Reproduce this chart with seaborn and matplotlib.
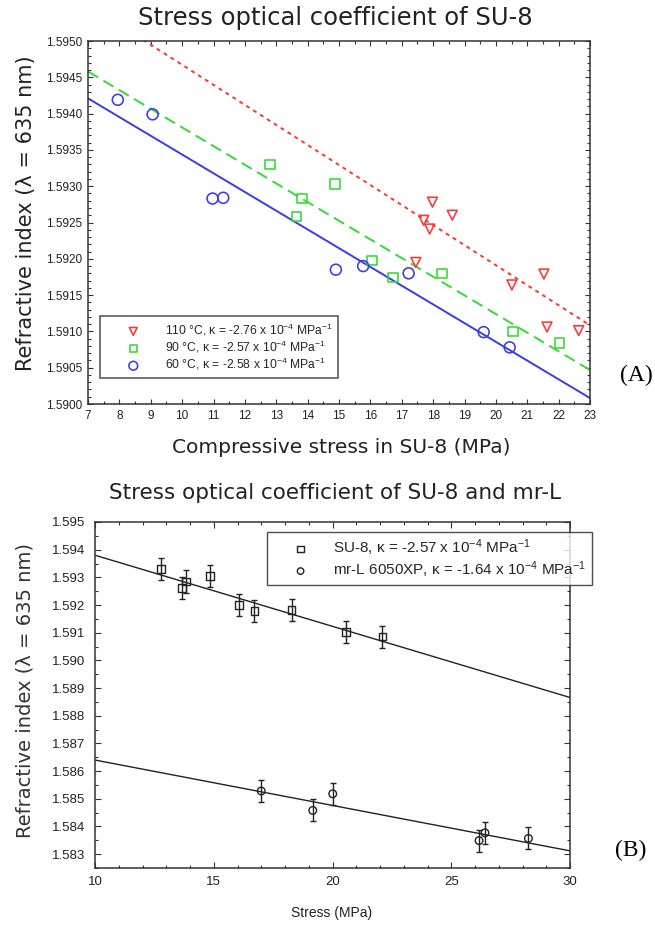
import matplotlib
matplotlib.use('Agg')
import matplotlib.pyplot as plt
import numpy as np
import pandas as pd
import seaborn as sns
from matplotlib.ticker import MultipleLocator, FormatStrFormatter

# ---------------- Panel A data (compressive stress, refractive index) ----------------
a110_x = [17.98, 17.70, 17.89, 18.61, 17.45, 20.51, 21.53, 21.63, 22.64]
a110_y = [1.59278, 1.59253, 1.59241, 1.59260, 1.59195, 1.59164, 1.59179, 1.59106, 1.59101]
a90_x = [12.80, 13.82, 13.65, 14.87, 16.05, 16.72, 18.28, 20.55, 22.03]
a90_y = [1.59330, 1.59283, 1.59258, 1.59303, 1.59198, 1.59174, 1.59180, 1.59100, 1.59084]
a60_x = [7.95, 9.06, 10.97, 11.31, 14.90, 15.77, 17.22, 19.61, 20.44]
a60_y = [1.59419, 1.59399, 1.59283, 1.59284, 1.59185, 1.59190, 1.59180, 1.59099, 1.59078]
a_kappa = [-2.76e-4, -2.57e-4, -2.58e-4]          # 110, 90, 60 degC
a_n_at_x0 = [1.59550, 1.59458, 1.59421]            # fitted index at x = 7
a_labels = ['110 °C, κ = -2.76 x 10$^{-4}$ MPa$^{-1}$',
            '90 °C, κ = -2.57 x 10$^{-4}$ MPa$^{-1}$',
            '60 °C, κ = -2.58 x 10$^{-4}$ MPa$^{-1}$']

# ---------------- Panel B data ----------------
b_su8_x = [12.77, 13.66, 13.84, 14.84, 16.06, 16.71, 18.28, 20.57, 22.10]
b_su8_y = [1.59331, 1.59261, 1.59285, 1.59305, 1.59201, 1.59178, 1.59181, 1.59103, 1.59086]
b_su8_err = [0.0004, 0.0004, 0.0004, 0.0004, 0.0004, 0.0004, 0.0004, 0.0004, 0.0004]
b_mrl_x = [17.00, 19.17, 20.01, 26.17, 26.42, 28.25]
b_mrl_y = [1.58528, 1.58458, 1.58518, 1.58349, 1.58377, 1.58357]
b_mrl_err = [0.0004, 0.0004, 0.0004, 0.0004, 0.0004, 0.0004]
b_kappa = [-2.57e-4, -1.64e-4]
b_n_at_x0 = [1.59380, 1.58640]                      # fitted index at x = 10
b_labels = ['SU-8, κ = -2.57 x 10$^{-4}$ MPa$^{-1}$',
            'mr-L 6050XP, κ = -1.64 x 10$^{-4}$ MPa$^{-1}$']

sns.set_theme(style='ticks')
plt.rcParams['font.family'] = ['Liberation Sans', 'DejaVu Sans']
plt.rcParams['mathtext.fontset'] = 'custom'
plt.rcParams['mathtext.rm'] = 'Liberation Sans'
plt.rcParams['mathtext.it'] = 'Liberation Sans:italic'
plt.rcParams['mathtext.bf'] = 'Liberation Sans:bold'
plt.rcParams['mathtext.sf'] = 'Liberation Sans'

W, H = 655, 925
fig = plt.figure(figsize=(W / 100, H / 100), dpi=100)
fig.patch.set_facecolor('white')

def frac_box(l, t, r, b):
    return [l / W, 1 - b / H, (r - l) / W, (b - t) / H]

axA = fig.add_axes(frac_box(88, 41, 590, 404))
axB = fig.add_axes(frac_box(95, 522, 570, 868))

TITLE_FONT = ['DejaVu Sans']
red, green, blue = '#ff3535', '#30dd30', '#3a3aee'

# ---------------- Panel A ----------------
xlimA = (7, 23)
series_A = [(a110_x, a110_y, 'v', red, 50), (a90_x, a90_y, 's', green, 46), (a60_x, a60_y, 'o', blue, 62)]
for (xs, ys, mk, col, s), lab in zip(series_A, a_labels):
    sns.scatterplot(x=xs, y=ys, marker=mk, s=s, facecolor='none', edgecolor=col,
                    linewidth=1.15, ax=axA, label=lab, zorder=3)

styles_A = [(red, (0, (2.0, 2.2))), (green, (0, (6, 3.2))), (blue, '-')]
for (col, ls), k, n0 in zip(styles_A, a_kappa, a_n_at_x0):
    xl = np.array(xlimA, dtype=float)
    sns.lineplot(x=xl, y=n0 + k * (xl - xlimA[0]), color=col, linestyle=ls,
                 linewidth=1.4, ax=axA, zorder=2)

axA.set_xlim(*xlimA)
axA.set_ylim(1.5900, 1.5950)
axA.xaxis.set_major_locator(MultipleLocator(1))
axA.xaxis.set_minor_locator(MultipleLocator(0.5))
axA.yaxis.set_major_locator(MultipleLocator(0.0005))
axA.yaxis.set_minor_locator(MultipleLocator(0.0001))
axA.yaxis.set_major_formatter(FormatStrFormatter('%.4f'))
axA.tick_params(which='both', direction='in', top=True, right=True, colors='#333333',
                labelcolor='#222222', labelsize=8.5, width=0.8)
axA.tick_params(which='major', length=3.5)
axA.tick_params(which='minor', length=2)
axA.tick_params(axis='x', pad=4)
axA.tick_params(axis='y', pad=4)
for sp in axA.spines.values():
    sp.set_color('#333333'); sp.set_linewidth(1.1)

legA = axA.legend(loc='lower left', bbox_to_anchor=(0.024, 0.072), borderaxespad=0,
                  fontsize=8.7, frameon=True, fancybox=False, edgecolor='#222222',
                  handlelength=4.6, handletextpad=0.3, labelspacing=0.08,
                  borderpad=0.45, markerscale=0.8)
legA.get_frame().set_linewidth(1.1)

axA.set_ylabel('Refractive index (λ = 635 nm)', fontsize=15, family=TITLE_FONT,
               color='#222222', va='center')
axA.yaxis.set_label_coords(-0.1235, 0.525)
axA.set_xlabel('Compressive stress in SU-8 (MPa)', fontsize=14.5, family=TITLE_FONT,
               color='#222222', va='center')
axA.xaxis.set_label_coords(0.504, -0.121)

fig.text(335 / W, 1 - 18 / H, 'Stress optical coefficient of SU-8', fontsize=17.5,
         family=TITLE_FONT, ha='center', va='center', color='#222222')
fig.text(636 / W, 1 - 375 / H, '(A)', fontsize=17, family=['Liberation Serif'],
         ha='center', va='center', color='black')

# ---------------- Panel B ----------------
xlimB = (10, 30)
axB.errorbar(b_su8_x, b_su8_y, yerr=b_su8_err, fmt='none', ecolor='#222222',
             elinewidth=1.0, capsize=2.3, capthick=1.0, zorder=3)
axB.errorbar(b_mrl_x, b_mrl_y, yerr=b_mrl_err, fmt='none', ecolor='#222222',
             elinewidth=1.0, capsize=2.3, capthick=1.0, zorder=3)
sns.scatterplot(x=b_su8_x, y=b_su8_y, marker='s', s=30, facecolor='none', edgecolor='#222222',
                linewidth=1.0, ax=axB, label=b_labels[0], zorder=4)
sns.scatterplot(x=b_mrl_x, y=b_mrl_y, marker='o', s=30, facecolor='none', edgecolor='#222222',
                linewidth=1.0, ax=axB, label=b_labels[1], zorder=4)
for k, n0 in zip(b_kappa, b_n_at_x0):
    xl = np.array(xlimB, dtype=float)
    sns.lineplot(x=xl, y=n0 + k * (xl - xlimB[0]), color='#222222', linewidth=1.0,
                 ax=axB, zorder=2)

axB.set_xlim(*xlimB)
axB.set_ylim(1.5825, 1.595)
axB.xaxis.set_major_locator(MultipleLocator(5))
axB.xaxis.set_minor_locator(MultipleLocator(1))
axB.yaxis.set_major_locator(MultipleLocator(0.001))
axB.yaxis.set_minor_locator(MultipleLocator(0.0005))
axB.yaxis.set_major_formatter(FormatStrFormatter('%.3f'))
axB.tick_params(which='both', direction='in', top=True, right=True, colors='#333333',
                labelcolor='#222222', labelsize=9.5, width=0.8)
axB.tick_params(which='major', length=4)
axB.tick_params(which='minor', length=2.5)
axB.tick_params(axis='x', pad=6)
axB.tick_params(axis='y', pad=7)
for sp in axB.spines.values():
    sp.set_color('#333333'); sp.set_linewidth(1.1)

legB = axB.legend(loc='upper left', bbox_to_anchor=(0.362, 0.971), borderaxespad=0,
                  fontsize=11, frameon=True, fancybox=False, edgecolor='#222222',
                  handlelength=3.7, handletextpad=0.3, labelspacing=0.1,
                  borderpad=0.35, markerscale=0.85)
legB.get_frame().set_linewidth(1.0)

axB.set_ylabel('Refractive index (λ = 635 nm)', fontsize=14, family=TITLE_FONT,
               color='#333333', va='center')
axB.yaxis.set_label_coords(-0.147, 0.514)
axB.set_xlabel('Stress (MPa)', fontsize=10, color='#222222', va='center')
axB.xaxis.set_label_coords(0.499, -0.130)

fig.text(335 / W, 1 - 493 / H, 'Stress optical coefficient of SU-8 and mr-L', fontsize=15.5,
         family=TITLE_FONT, ha='center', va='center', color='#222222')
fig.text(631 / W, 1 - 850 / H, '(B)', fontsize=17, family=['Liberation Serif'],
         ha='center', va='center', color='black')

fig.savefig('out.png', dpi=100, facecolor='white')
